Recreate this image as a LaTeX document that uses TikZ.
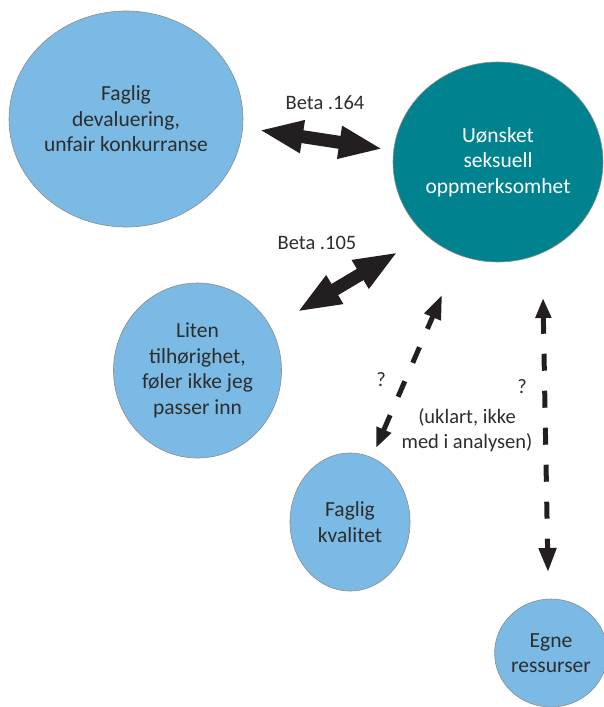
\documentclass[tikz,border=0pt]{standalone}
\usepackage{fontspec}
\setmainfont{Carlito}
\usetikzlibrary{arrows.meta,shapes.geometric}
\definecolor{lblue}{RGB}{122,186,228}
\definecolor{dteal}{RGB}{0,131,143}
\definecolor{rim}{RGB}{140,140,140}
\definecolor{ink}{RGB}{35,31,32}
\definecolor{txt}{RGB}{45,45,45}
\tikzset{
  bubble/.style={ellipse, draw=rim, line width=0.6pt, fill=lblue, inner sep=0pt, outer sep=0pt,
    align=center, text=txt, font=\fontsize{21.5}{25.5}\selectfont},
  mainbubble/.style={bubble, fill=dteal, text=white},
  lbl/.style={text=txt, align=center, font=\fontsize{20.5}{25}\selectfont},
  bigarrow/.style={ink, line width=13pt, {Triangle[length=44pt,width=30pt]}-{Triangle[length=44pt,width=30pt]}},
  dasharrow/.style={ink, line width=5pt, dash pattern=on 17pt off 20pt,
    {Triangle[length=20pt,width=15pt]}-{Triangle[length=24pt,width=17pt]}}
}
\begin{document}
\begin{tikzpicture}[x=1pt,y=-1pt]
\useasboundingbox (0,0) rectangle (604,707);
\node[bubble, minimum width=234pt, minimum height=216pt] (dev) at (126,119) {Faglig\\devaluering,\\unfair konkurranse};
\node[mainbubble, minimum width=210pt, minimum height=200pt] (uss) at (498,162) {Uønsket\\seksuell\\oppmerksomhet};
\node[bubble, minimum width=168pt, minimum height=175pt] (lit) at (197.5,370.5) {Liten\\tilhørighet,\\føler ikke jeg\\passer inn};
\node[bubble, minimum width=120pt, minimum height=138pt] (kval) at (350,522) {Faglig\\kvalitet};
\node[bubble, minimum width=107pt, minimum height=108pt] (egne) at (551,653) {Egne\\ressurser};

\coordinate (a1s) at (259,130);
\coordinate (a1e) at (383,149);
\coordinate (a2s) at (297,312);
\coordinate (a2e) at (398,252);
\coordinate (d1s) at (376,448);
\coordinate (d1e) at (442,295);
\coordinate (d2s) at (543,298);
\coordinate (d2e) at (548,572);

\draw[bigarrow] (a1s) -- (a1e);
\draw[bigarrow] (a2s) -- (a2e);
\draw[dasharrow] (d1s) -- (d1e);
\draw[dasharrow] (d2s) -- (d2e);

\node[lbl] (b164) at (325,103) {Beta .164};
\node[lbl] (b105) at (317,243) {Beta .105};
\node[lbl] (q1) at (381,380) {?};
\node[lbl] (q2) at (522,387) {?};
\node[lbl] (uk) at (467,430) {(uklart, ikke\\med i analysen)};
\end{tikzpicture}
\end{document}
